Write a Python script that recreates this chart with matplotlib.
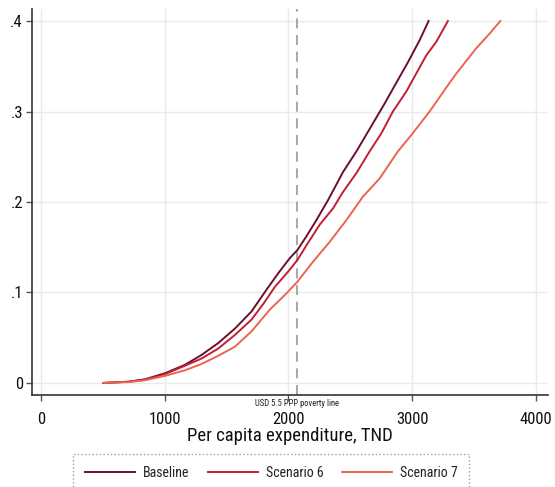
import os
import matplotlib
matplotlib.use("Agg")
import matplotlib.pyplot as plt
from matplotlib import font_manager
from matplotlib.font_manager import FontProperties

# ---------------- data ----------------
baseline_x = [502, 703, 838, 1006, 1162, 1297, 1431, 1566, 1701, 1822, 1916, 2011, 2073,
              2145, 2226, 2320, 2441, 2550, 2684, 2779, 2886, 2969, 3062, 3134]
baseline_y = [0.0, 0.0014, 0.004, 0.011, 0.020, 0.031, 0.044, 0.060, 0.079, 0.103, 0.121,
              0.138, 0.147, 0.162, 0.180, 0.202, 0.233, 0.256, 0.287, 0.309, 0.335, 0.355,
              0.379, 0.400]

scen6_x = [502, 703, 838, 1006, 1162, 1297, 1431, 1566, 1701, 1800, 1889, 1997, 2073,
           2145, 2253, 2361, 2441, 2550, 2657, 2752, 2845, 2953, 3034, 3115, 3196, 3290]
scen6_y = [0.0, 0.0013, 0.0035, 0.010, 0.019, 0.027, 0.038, 0.053, 0.070, 0.088, 0.106,
           0.123, 0.136, 0.152, 0.175, 0.193, 0.211, 0.232, 0.256, 0.276, 0.300, 0.322,
           0.342, 0.362, 0.377, 0.400]

scen7_x = [502, 703, 838, 1006, 1162, 1297, 1431, 1566, 1701, 1849, 1984, 2073, 2199,
           2334, 2469, 2603, 2738, 2886, 2994, 3142, 3264, 3358, 3520, 3627, 3714]
scen7_y = [0.0, 0.001, 0.003, 0.008, 0.014, 0.021, 0.030, 0.040, 0.057, 0.081, 0.099,
           0.112, 0.134, 0.156, 0.180, 0.206, 0.226, 0.256, 0.274, 0.300, 0.324, 0.342,
           0.370, 0.386, 0.400]

series_names = ["Baseline", "Scenario 6", "Scenario 7"]
series_colors = ["#6b0f2e", "#c11f33", "#e8664f"]

poverty_line = 2067
poverty_label = "USD 5.5 PPP poverty line"
x_ticks = [0, 1000, 2000, 3000, 4000]
y_ticks = [0, 0.1, 0.2, 0.3, 0.4]
y_tick_labels = ["0", ".1", ".2", ".3", ".4"]
x_label = "Per capita expenditure, TND"

# ---------------- font: prefer a narrow sans ----------------
def pick_font():
    names = {f.name for f in font_manager.fontManager.ttflist}
    for fam in ["Liberation Sans Narrow", "Arial Narrow", "Roboto Condensed",
                "Open Sans Condensed", "Noto Sans Condensed"]:
        if fam in names:
            return FontProperties(family=fam), 1.0
    cands = []
    for f in font_manager.fontManager.ttflist:
        b = os.path.basename(f.fname)
        if ("Condensed" in b or "Narrow" in b) and not any(
                k in b for k in ["Bold", "Italic", "Oblique", "Light", "Thin", "Black",
                                 "Medium", "Semi", "Extra", "Mono", "Serif"]):
            cands.append(f)
    order = ["Roboto", "Noto Sans", "Open Sans", "Liberation", "DejaVu Sans"]
    for key in order:
        for f in cands:
            if f.name.startswith(key):
                scale = 1.0 if not f.name.startswith("DejaVu") else 0.92
                return FontProperties(fname=f.fname), scale
    return FontProperties(family="Liberation Sans"), 0.85

FP, S = pick_font()

def fp(size):
    p = FP.copy()
    p.set_size(size * S)
    return p

W, H = 555, 487
fig = plt.figure(figsize=(W / 100, H / 100), dpi=100)
ax = fig.add_axes([32 / W, 1 - 395 / H, (548 - 32) / W, (395 - 9) / H])

for xs, ys, c, n in zip([baseline_x, scen6_x, scen7_x],
                        [baseline_y, scen6_y, scen7_y],
                        series_colors, series_names):
    ax.plot(xs, ys, color=c, lw=1.4, label=n)

ax.axvline(poverty_line, color="#999999", lw=1.2, ls=(0, (6, 4)), zorder=1)
ax.text(poverty_line, -0.018, poverty_label, ha="center", va="top",
        fontproperties=fp(6.2), color="#222222")

ax.set_xlim(-75, 4100)
ax.set_ylim(-0.0133, 0.4133)
ax.set_xticks(x_ticks)
ax.set_xticklabels([str(v) for v in x_ticks])
ax.set_yticks(y_ticks)
ax.set_yticklabels(y_tick_labels)
for lab in ax.get_xticklabels() + ax.get_yticklabels():
    lab.set_fontproperties(fp(12))
    lab.set_color("#111111")
ax.grid(True, color="#eaeaea", lw=1.0)
ax.set_axisbelow(True)
for s in ["top", "right"]:
    ax.spines[s].set_visible(False)
for s in ["left", "bottom"]:
    ax.spines[s].set_color("#333333")
    ax.spines[s].set_linewidth(1.2)
ax.tick_params(axis="both", direction="out", length=4.5, width=1.0, color="#555555")
ax.tick_params(axis="x", pad=8)
ax.tick_params(axis="y", pad=2)
ax.set_xlabel(x_label, fontproperties=fp(13.5), labelpad=0, color="#111111")

leg = fig.legend(loc="upper left", bbox_to_anchor=(73 / W, 1 - 454 / H), ncol=3,
                 prop=fp(10), handlelength=3.6 / S, handletextpad=0.6 / S,
                 columnspacing=1.3 / S, frameon=True, fancybox=False, borderpad=0.85,
                 borderaxespad=0)
fr = leg.get_frame()
fr.set_edgecolor("#888888")
fr.set_linestyle(":")
fr.set_linewidth(1.0)
for t in leg.get_texts():
    t.set_color("#222222")

fig.savefig("out.png", dpi=100)
